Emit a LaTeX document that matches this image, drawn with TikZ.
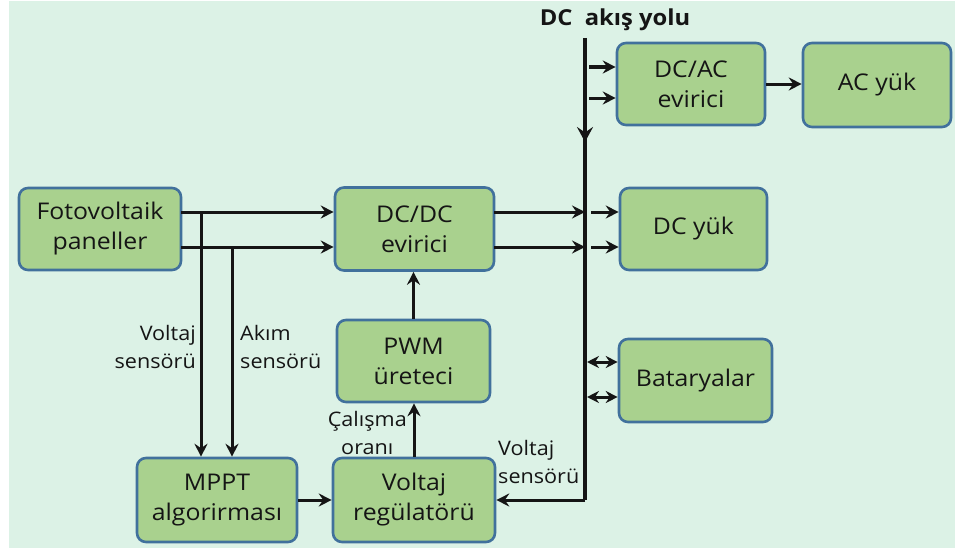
\documentclass[tikz,border=0pt]{standalone}
\usepackage{fontspec}
\setmainfont{Open Sans}[FakeStretch=1.08]
\usetikzlibrary{arrows.meta}
\definecolor{bgmint}{HTML}{DCF2E6}
\definecolor{boxgreen}{HTML}{A9D18E}
\definecolor{boxblue}{HTML}{41719C}
\definecolor{ink}{HTML}{151515}
\tikzset{
  blk/.style={draw=boxblue, fill=boxgreen, rounded corners=9pt, line width=2.6pt,
    align=center, inner sep=0pt, text=ink, font=\fontsize{23}{30}\selectfont},
  arr/.style={line width=3pt, draw=ink, -{Stealth[length=13pt,width=13pt,inset=4.5pt]}},
  darr/.style={line width=3pt, draw=ink, {Stealth[length=12pt,width=12pt,inset=4pt]}-{Stealth[length=12pt,width=12pt,inset=4pt]}},
  bus/.style={line width=4.5pt, draw=ink},
  lbl/.style={inner sep=0pt, text=ink, font=\fontsize{20}{28}\selectfont},
}
\begin{document}
\begin{tikzpicture}[x=1pt,y=-1pt]
\useasboundingbox (0,0) rectangle (955,551);
\fill[white] (0,0) rectangle (955,551);
\fill[bgmint] (9,1) rectangle (955,548);

% blocks
\node[blk, minimum width=162pt, minimum height=82pt] (pv) at (100,229) {Fotovoltaik\\paneller};
\node[blk, minimum width=159pt, minimum height=83pt] (dcdc) at (414.5,229) {DC/DC\\evirici};
\node[blk, minimum width=148pt, minimum height=82pt] (dcac) at (691,84) {DC/AC\\evirici};
\node[blk, minimum width=148pt, minimum height=84pt] (ac) at (877,85) {AC yük};
\node[blk, minimum width=147pt, minimum height=82pt] (dcy) at (693.5,229) {DC yük};
\node[blk, minimum width=153pt, minimum height=83pt] (bat) at (695.5,380.5) {Bataryalar};
\node[blk, minimum width=153pt, minimum height=82pt] (pwm) at (413.5,361) {PWM\\üreteci};
\node[blk, minimum width=160pt, minimum height=84pt] (mppt) at (217,500) {MPPT\\algorirması};
\node[blk, minimum width=162pt, minimum height=84pt] (vreg) at (414,500) {Voltaj\\regülatörü};

% DC bus
\node[inner sep=0pt, text=ink, font=\bfseries\fontsize{22}{24}\selectfont] (title) at (615,20) {DC\ \ akış yolu};
\coordinate (bustop) at (585,38);
\coordinate (busbot) at (585,500);
\draw[bus] (bustop) -- (busbot);
\coordinate (busmid1) at (585,118);
\coordinate (busmid2) at (585,142);
\draw[line width=4.5pt, draw=ink, -{Stealth[length=15pt,width=16pt,inset=5.5pt]}] (busmid1) -- (busmid2);

% bus -> DC/AC
\coordinate (ba1) at (589,67);
\coordinate (ba2) at (589,98);
\draw[arr] (ba1) -- (ba1 -| dcac.west);
\draw[arr] (ba2) -- (ba2 -| dcac.west);
\draw[arr] (dcac.east) -- (dcac.east -| ac.west);

% PV -> DC/DC
\coordinate (p1) at (181,212);
\coordinate (p2) at (181,247);
\draw[arr] (p1) -- (p1 -| dcdc.west);
\draw[arr] (p2) -- (p2 -| dcdc.west);

% DC/DC -> bus
\coordinate (d1) at (494,212);
\coordinate (d2) at (494,247);
\coordinate (bd1) at (585,212);
\coordinate (bd2) at (585,247);
\draw[arr] (d1) -- (bd1);
\draw[arr] (d2) -- (bd2);
\coordinate (bl1) at (591,212);
\coordinate (bl2) at (591,247);
\draw[arr] (bl1) -- (bl1 -| dcy.west);
\draw[arr] (bl2) -- (bl2 -| dcy.west);

% bus <-> batteries
\coordinate (bb1) at (587,362);
\coordinate (bb2) at (587,397);
\draw[darr] (bb1) -- (bb1 -| bat.west);
\draw[darr] (bb2) -- (bb2 -| bat.west);

% sensors
\coordinate (vs) at (201,212);
\coordinate (as) at (232,247);
\draw[arr] (vs) -- (vs |- mppt.north);
\draw[arr] (as) -- (as |- mppt.north);
\node[lbl, anchor=east, align=right] (vslbl) at (196,347) {Voltaj\\sensörü};
\node[lbl, anchor=west, align=left] (aslbl) at (240,347) {Akım\\sensörü};

% control chain
\draw[arr] (pwm.north) -- (pwm.north |- dcdc.south);
\draw[arr] (vreg.north) -- (vreg.north |- pwm.south);
\node[lbl, anchor=east, align=center] (duty) at (407,433) {Çalışma\\oranı};
\draw[arr] (mppt.east) -- (vreg.west);
\draw[arr] (busbot) -- (busbot -| vreg.east);
\node[lbl, anchor=west, align=left] (vs2lbl) at (498,462) {Voltaj\\sensörü};
\end{tikzpicture}
\end{document}
